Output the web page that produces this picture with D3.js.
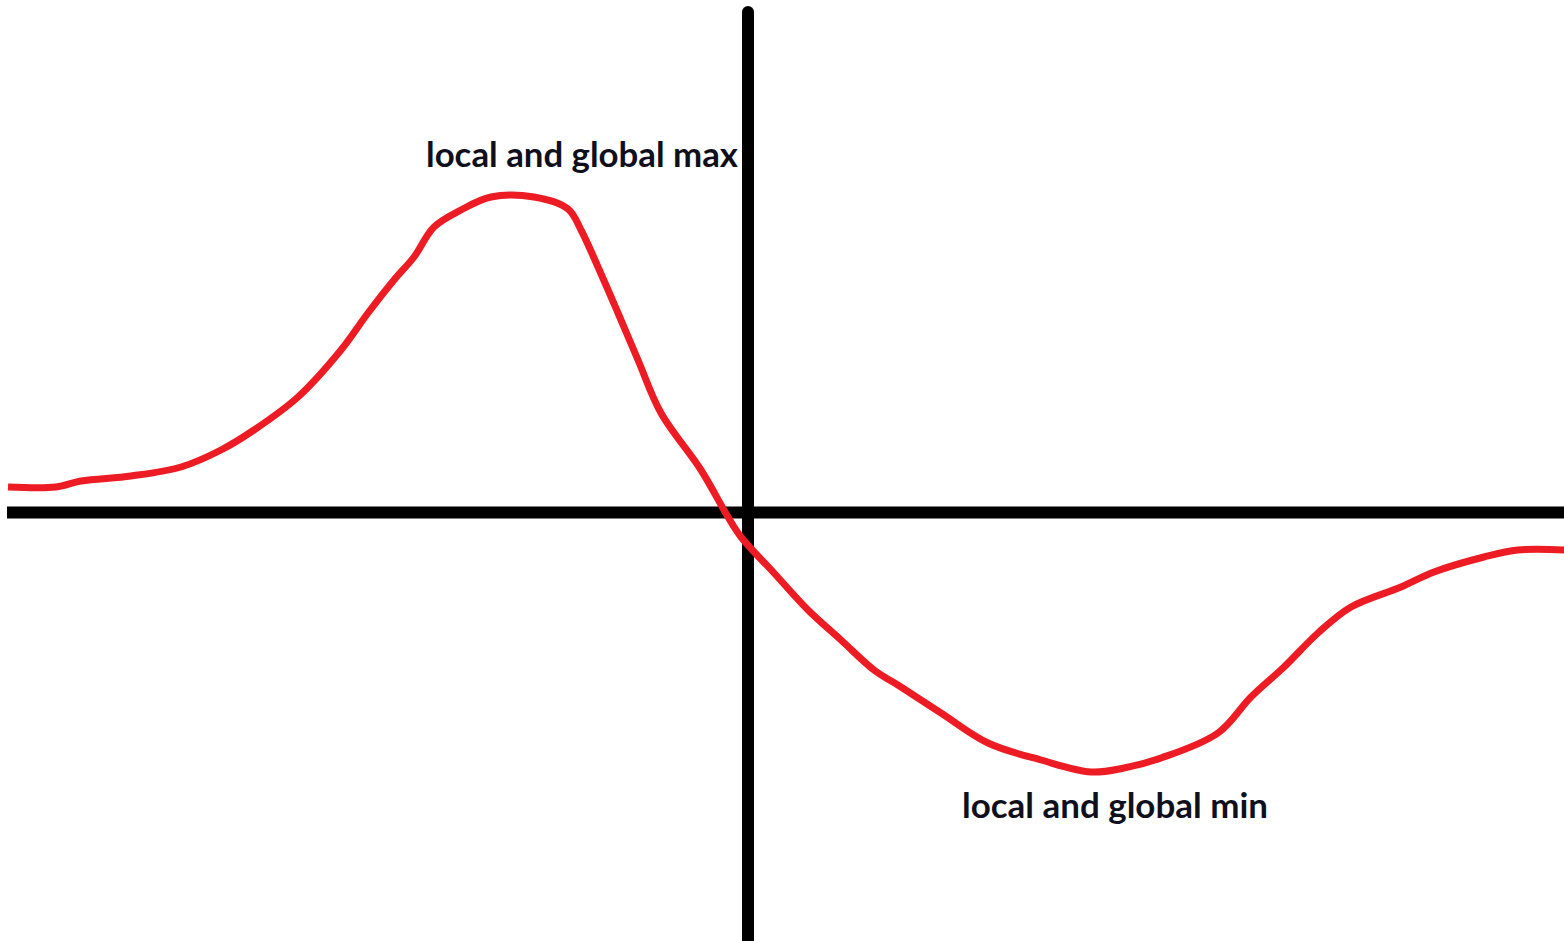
<!DOCTYPE html>
<html>
<head>
<meta charset="utf-8">
<script src="https://cdn.jsdelivr.net/npm/d3@7"></script>
<style>
  html, body { margin: 0; padding: 0; background: #fff; }
  svg { display: block; }
</style>
</head>
<body>
<svg id="chart" width="1564" height="941"></svg>
<script>
// Sketched function f(x): one hump above the x-axis, one trough below it.
const xValues = [-7.40, -6.92, -6.67, -6.17, -5.67, -5.27, -4.94, -4.50, -4.07, -3.80,
                 -3.54, -3.34, -3.14, -2.87, -2.57, -2.14, -1.80, -1.67, -1.50, -1.30,
                 -1.10, -0.87, -0.47, -0.20, -0.07, 0.26, 0.60, 0.93, 1.26, 1.53,
                 1.93, 2.40, 2.93, 3.43, 3.76, 4.13, 4.70, 5.03, 5.36, 5.70,
                 6.03, 6.53, 6.86, 7.36, 7.70, 8.17];
const yValues = [0.25, 0.25, 0.31, 0.36, 0.45, 0.62, 0.82, 1.15, 1.62, 1.99,
                 2.32, 2.55, 2.85, 3.02, 3.15, 3.15, 3.03, 2.82, 2.45, 1.99,
                 1.52, 0.99, 0.42, -0.05, -0.25, -0.61, -0.98, -1.28, -1.58, -1.75,
                 -2.01, -2.31, -2.48, -2.60, -2.56, -2.46, -2.21, -1.85, -1.55, -1.21,
                 -0.95, -0.75, -0.60, -0.45, -0.38, -0.38];

// Extremum annotations: text and the point each one is anchored to.
const labels = ["local and global max", "local and global min"];
const labelX = [-3.22, 2.14];
const labelY = [3.45, -3.06];

const W = 1564, H = 941;
const svg = d3.select("#chart");

const x = d3.scaleLinear().domain([-7.41, 8.16]).range([7, 1564]);
const y = d3.scaleLinear().domain([-4.29, 5.12]).range([941, 0]);

// Coordinate axes
svg.append("line")
  .attr("x1", x(-7.41)).attr("x2", W)
  .attr("y1", y(-0.005)).attr("y2", y(-0.005))
  .attr("stroke", "#000").attr("stroke-width", 12);

svg.append("line")
  .attr("x1", x(0)).attr("x2", x(0))
  .attr("y1", y(5.0)).attr("y2", H + 10)
  .attr("stroke", "#000").attr("stroke-width", 12)
  .attr("stroke-linecap", "round");

// The curve
const pts = xValues.map((v, i) => [v, yValues[i]]);
const line = d3.line()
  .x(d => x(d[0]))
  .y(d => y(d[1]))
  .curve(d3.curveCatmullRom.alpha(0.5));

svg.append("path")
  .datum(pts)
  .attr("d", line)
  .attr("fill", "none")
  .attr("stroke", "#ed1c24")
  .attr("stroke-width", 7)
  .attr("stroke-linejoin", "round")
  .attr("stroke-linecap", "butt");

// Annotations
const textWidths = [312, 306];
svg.selectAll("text.note")
  .data(labels)
  .join("text")
  .attr("class", "note")
  .attr("x", (d, i) => x(labelX[i]))
  .attr("y", (d, i) => y(labelY[i]))
  .attr("textLength", (d, i) => textWidths[i])
  .attr("lengthAdjust", "spacingAndGlyphs")
  .attr("font-family", "Lato, 'Open Sans', sans-serif")
  .attr("font-weight", 700)
  .attr("font-size", 34)
  .attr("fill", "#10101c")
  .text(d => d);
</script>
</body>
</html>
